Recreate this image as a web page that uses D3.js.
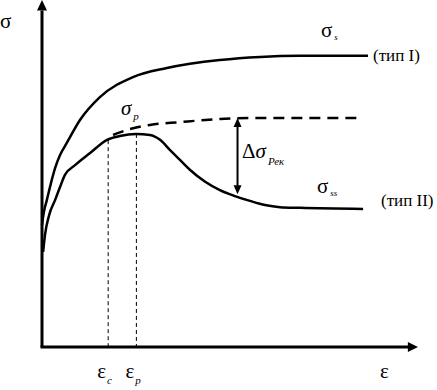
<!DOCTYPE html>
<html>
<head>
<meta charset="utf-8">
<script src="https://cdn.jsdelivr.net/npm/d3@7"></script>
<style>
  body { margin: 0; background: #fff; }
  svg { display: block; font-family: "Liberation Serif", "Times New Roman", serif; }
</style>
</head>
<body>
<div id="chart"></div>
<script>
// strain / stress in arbitrary units (0..100)
const typeI = [[0, 35.2], [0.5, 38.9], [1.3, 42.4], [2.4, 47.3], [3.5, 51.6], [4.8, 55.3], [6.6, 58.8],
  [10.1, 65.4], [15.4, 72], [24.2, 77.8], [33.2, 80.4], [47.3, 82.7], [58, 83.6], [68.6, 83.9], [86.7, 83.9]];
const typeII = [[0.3, 27.4], [0.8, 32.3], [1.9, 38], [3.5, 42.4], [4.8, 46.1], [6.1, 49.6], [8.8, 52.4],
  [12.8, 55.9], [17.3, 59.7], [20.7, 60.8], [25, 61.4], [28.7, 61.1], [31.4, 59.7], [34, 56.8], [36.7, 53.9],
  [39.4, 51], [43.4, 47.6], [47.3, 45.2], [51.3, 43.5], [55.3, 42.1], [59.3, 40.9], [63.3, 40.3], [68.6, 40.1], [85.4, 39.8]];
const peakExt = [[18.9, 61.1], [23.4, 62.8], [28.7, 64], [36.7, 64.8], [47.3, 65.7], [58, 66], [84.3, 66]];
const markers = [{ eps: 17.6, sig: 59.6, sub: "c" }, { eps: 25.1, sig: 61.4, sub: "p" }];
const recovery = { eps: 52, top: 66, bottom: 44 };

const width = 437, height = 390;
const svg = d3.select("#chart").append("svg")
  .attr("width", width).attr("height", height);

const x = d3.scaleLinear().domain([0, 100]).range([42, 418]);
const y = d3.scaleLinear().domain([0, 100]).range([347, 0]);

const line = d3.line()
  .x(d => x(d[0])).y(d => y(d[1]))
  .curve(d3.curveMonotoneX);

// axes
svg.append("line").attr("x1", x(0)).attr("x2", x(0)).attr("y1", y(0)).attr("y2", y(97))
  .attr("stroke", "#000").attr("stroke-width", 3);
svg.append("line").attr("x1", x(0) - 1.5).attr("x2", x(97.5)).attr("y1", y(0)).attr("y2", y(0))
  .attr("stroke", "#000").attr("stroke-width", 3);
svg.append("path")
  .attr("d", `M${x(0)},${y(100)} L${x(0) - 5},${y(97)} L${x(0) + 5},${y(97)} Z`)
  .attr("fill", "#000");
svg.append("path")
  .attr("d", `M${x(100)},${y(0)} L${x(97.3)},${y(0) - 5} L${x(97.3)},${y(0) + 5} Z`)
  .attr("fill", "#000");

// markers for eps_c and eps_p
svg.selectAll("line.mark").data(markers).join("line")
  .attr("class", "mark")
  .attr("x1", d => x(d.eps)).attr("x2", d => x(d.eps))
  .attr("y1", d => y(d.sig)).attr("y2", y(0))
  .attr("stroke", "#000").attr("stroke-width", 1)
  .attr("stroke-dasharray", "4,3");

// curves
svg.append("path").datum(typeI).attr("d", line)
  .attr("fill", "none").attr("stroke", "#000").attr("stroke-width", 2.5);
svg.append("path").datum(typeII).attr("d", line)
  .attr("fill", "none").attr("stroke", "#000").attr("stroke-width", 2.5);
svg.append("path").datum(peakExt).attr("d", line)
  .attr("fill", "none").attr("stroke", "#000").attr("stroke-width", 2.5)
  .attr("stroke-dasharray", "11,7");

// recovery double arrow
const ax = x(recovery.eps);
svg.append("line").attr("x1", ax).attr("x2", ax)
  .attr("y1", y(recovery.top) + 6).attr("y2", y(recovery.bottom) - 6)
  .attr("stroke", "#000").attr("stroke-width", 2);
svg.append("path")
  .attr("d", `M${ax},${y(recovery.top)} L${ax - 4},${y(recovery.top) + 9} L${ax + 4},${y(recovery.top) + 9} Z`)
  .attr("fill", "#000");
svg.append("path")
  .attr("d", `M${ax},${y(recovery.bottom)} L${ax - 4},${y(recovery.bottom) - 9} L${ax + 4},${y(recovery.bottom) - 9} Z`)
  .attr("fill", "#000");

// labels: parts = [[text, italic]], sub = subscript
function label(px, py, parts, sub, opts = {}) {
  const t = svg.append("text").attr("x", px).attr("y", py)
    .attr("font-size", opts.size || 21).attr("fill", "#000");
  parts.forEach(([s, it]) => t.append("tspan").text(s).attr("font-style", it ? "italic" : "normal"));
  if (sub) {
    t.append("tspan").text(sub)
      .attr("font-size", opts.subSize || 10)
      .attr("font-style", "italic")
      .attr("dx", opts.subDx || 1)
      .attr("dy", opts.subDy || 4);
  }
  return t;
}

label(0, 28, [["σ", false]]);
label(380, 378, [["ε", false]]);
markers.forEach(d => label(x(d.eps) - 11, 378, [["ε", false]], d.sub, { subDy: 6, subDx: 1, subSize: 11 }));
label(321, 37, [["σ", false]], "s", { subSize: 9, subDy: 3, subDx: 2 });
label(317, 193, [["σ", false]], "ss", { subSize: 9, subDy: 3, subDx: 2 });
label(121, 115, [["σ", true]], "p", { italic: true, subSize: 11, subDy: 5, subDx: 2 });
label(242, 158, [["Δ", false], ["σ", true]], "Рек", { subSize: 11, subDy: 7, subDx: 2 });

svg.append("text").attr("x", 373).attr("y", 61).attr("font-size", 17).text("(тип I)");
svg.append("text").attr("x", 381).attr("y", 206).attr("font-size", 17).text("(тип II)");
</script>
</body>
</html>
